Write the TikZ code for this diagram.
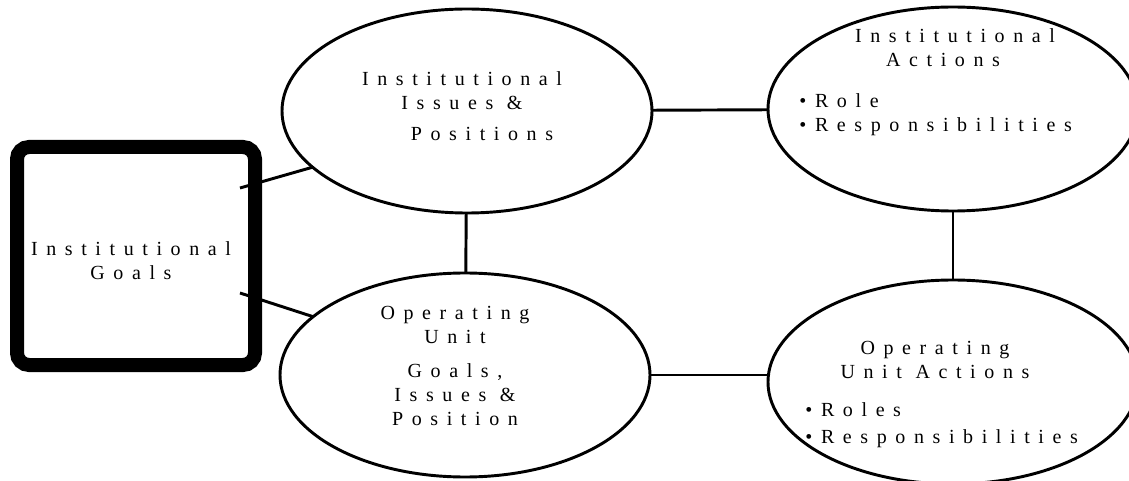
\documentclass[tikz,border=0pt]{standalone}
\usepackage{fontspec}
\setmainfont{Liberation Serif}[LetterSpace=43]
\usetikzlibrary{shapes.geometric,positioning}

\begin{document}
\begin{tikzpicture}[x=0.75pt,y=-0.75pt,line width=2.2pt,
    font=\fontsize{15}{18}\selectfont]
    \tikzstyle{blob}=[draw,ellipse,inner sep=0pt,outer sep=0pt,
      minimum width=277.5pt,minimum height=153pt]
    \tikzstyle{words}=[inner sep=0pt,align=center]
    \tikzstyle{items}=[inner sep=0pt,align=left,anchor=west]
    \useasboundingbox (0,0) rectangle (1129,481);

    % goals box on the left
    \node [draw,line width=10.5pt,rounded corners=9pt,minimum width=178.5pt,
      minimum height=163.5pt] (goals) at (136,256) {};
    \node [words] (goalsT) at (131,261) {Institutional\\Goals};
    \coordinate (g1) at (240,188);
    \coordinate (g2) at (240,293);

    % the four ellipses
    \node [blob] (issues) at (467,111) {};
    \node [blob] (unit) at (465,375) {};
    \node [blob] (acts) at (953,109) {};
    \node [blob] (unitacts) at (953,382) {};

    \node [words] (issuesT) at (462,106) {Institutional\\Issues \&\\[5pt]\hspace*{2em}Positions};
    \node [words] (actsT) at (955,48) {Institutional\\Actions\hspace*{1.2em}};
    \node [items] (actsL) at (798,115) {\textbullet Role\\\textbullet Responsibilities};
    \node [words] (unitT) at (455,366) {Operating\\Unit\\[8pt]Goals,\\Issues \&\\Position};
    \node [words] (unitactsT) at (935,360) {Operating\\Unit Actions};
    \node [items] (unitactsL) at (804,425) {\textbullet Roles\\[2pt]\textbullet Responsibilities};

    % links
    \draw (g1) -- (issues.200);
    \draw (g2) -- (unit.159);
    \draw (issues) -- (acts);
    \draw (unit.east) -- (unit.east -| unitacts.west);
    \draw (issues) -- (unit);
    \draw (acts) -- (unitacts);
\end{tikzpicture}
\end{document}
